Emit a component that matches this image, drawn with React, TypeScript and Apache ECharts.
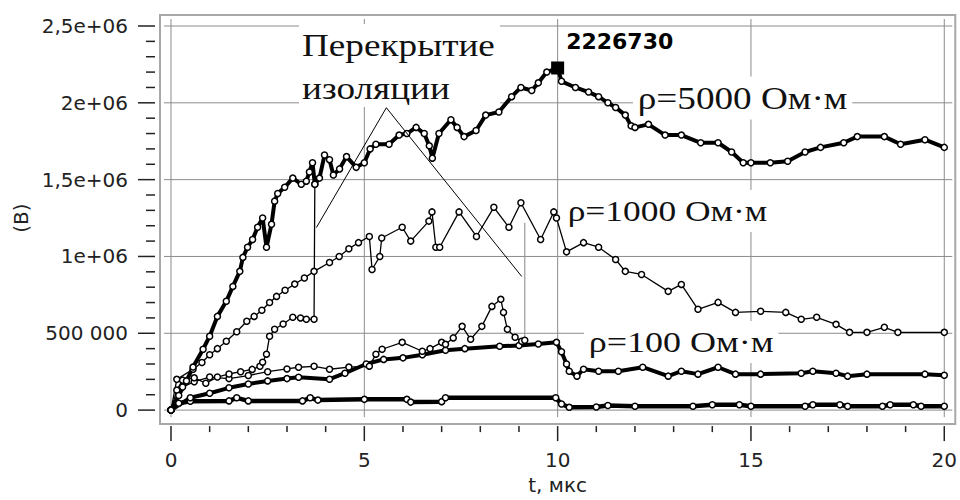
import React, { useEffect, useRef } from 'react';
import * as echarts from 'echarts';

const xTicks = [0, 5, 10, 15, 20];
const xTickLabels = ['0', '5', '10', '15', '20'];
const yTicks = [0, 500000, 1000000, 1500000, 2000000, 2500000];
const yTickLabels = ['0', '500 000', '1e+06', '1,5e+06', '2e+06', '2,5e+06'];
const minorSplit = 5;

const xName = 't, мкс';
const yName = '(В)';

// ρ = 5000 Ом·м
const rho5000: [number, number][] = [
  [0, 0], [0.2, 95000], [0.4, 190000], [0.57, 280000], [0.83, 396000], [1.0, 481000], [1.2, 610000],
  [1.43, 708000], [1.6, 805000], [1.78, 903000], [1.86, 994000], [1.98, 1060000], [2.11, 1110000],
  [2.24, 1190000], [2.37, 1250000], [2.47, 1060000], [2.6, 1210000], [2.68, 1360000], [2.76, 1410000],
  [2.94, 1450000], [3.15, 1510000], [3.37, 1470000], [3.5, 1490000], [3.58, 1550000], [3.66, 1610000],
  [3.72, 1470000], [3.84, 1510000], [3.97, 1660000], [4.1, 1630000], [4.2, 1530000], [4.36, 1570000],
  [4.54, 1650000], [4.79, 1580000], [5.0, 1610000], [5.15, 1700000], [5.3, 1730000], [5.64, 1730000],
  [5.9, 1790000], [6.1, 1800000], [6.34, 1840000], [6.55, 1800000], [6.68, 1720000], [6.76, 1640000],
  [6.93, 1800000], [7.24, 1890000], [7.4, 1840000], [7.58, 1780000], [7.89, 1820000], [8.14, 1920000],
  [8.48, 1940000], [8.81, 2040000], [9.05, 2100000], [9.33, 2080000], [9.5, 2130000], [9.72, 2200000],
  [10.0, 2226730], [10.1, 2140000], [10.46, 2100000], [10.8, 2070000], [11.06, 2040000], [11.3, 2000000],
  [11.5, 1970000], [11.75, 1920000], [11.9, 1850000], [12.0, 1840000], [12.35, 1860000], [12.78, 1790000],
  [13.2, 1790000], [13.7, 1740000], [14.15, 1740000], [14.5, 1680000], [14.8, 1610000], [15.0, 1610000],
  [15.5, 1610000], [15.95, 1620000], [16.4, 1680000], [16.8, 1710000], [17.4, 1740000], [17.75, 1780000],
  [18.45, 1780000], [18.87, 1730000], [19.5, 1760000], [20, 1710000],
];
const peakPoint: [number, number] = [10, 2226730];

// curve with flashover at ~3.7 µs
const flash1: [number, number][] = [
  [0, 0], [0.15, 130000], [0.3, 195000], [0.6, 210000], [0.9, 175000], [1.2, 215000], [1.5, 235000],
  [1.8, 250000], [2.1, 265000], [2.3, 285000], [2.37, 312000], [2.47, 364000], [2.55, 481000],
  [2.68, 526000], [2.9, 560000], [3.15, 604000], [3.35, 600000], [3.5, 591000], [3.7, 591000],
  [3.72, 1470000],
];

// ρ = 1000 Ом·м
const rho1000: [number, number][] = [
  [0, 0], [0.15, 200000], [0.57, 266000], [0.8, 310000], [1.0, 360000], [1.2, 400000], [1.43, 448000],
  [1.7, 510000], [1.96, 578000], [2.15, 610000], [2.35, 650000], [2.55, 700000], [2.73, 740000],
  [2.95, 780000], [3.2, 820000], [3.45, 860000], [3.7, 903000], [4.1, 961000], [4.35, 1000000],
  [4.6, 1050000], [4.85, 1090000], [5.13, 1130000],
  [5.2, 915000], [5.4, 1000000], [5.45, 1120000], [5.98, 1190000], [6.2, 1100000], [6.67, 1230000],
  [6.75, 1290000], [6.85, 1060000], [6.95, 1060000], [7.45, 1290000], [7.9, 1130000], [8.35, 1320000],
  [8.74, 1190000], [9.05, 1350000], [9.56, 1110000], [9.9, 1290000], [9.97, 1250000], [10.23, 1030000],
  [10.67, 1090000], [11.06, 1060000], [11.5, 980000], [11.75, 903000], [12.17, 883000], [12.86, 773000],
  [13.2, 818000], [13.63, 656000], [14.15, 701000], [14.6, 636000], [15.25, 643000], [15.9, 636000],
  [16.3, 591000], [16.7, 604000], [17.2, 558000], [17.55, 506000], [18.0, 506000], [18.45, 539000],
  [18.8, 506000], [20, 506000],
];

// curve with flashover at ~9.15 µs
const flash2: [number, number][] = [
  [0, 0], [0.3, 150000], [0.6, 185000], [1.0, 215000], [1.5, 205000], [2.0, 225000], [2.5, 250000],
  [3.0, 268000], [3.3, 279000], [3.7, 285000], [4.1, 266000], [4.6, 280000], [5.13, 286000],
  [5.3, 364000], [5.46, 396000], [5.98, 441000], [6.5, 383000], [6.7, 400000], [7.0, 441000],
  [7.1, 428000], [7.3, 470000], [7.53, 545000], [7.75, 461000], [8.04, 545000], [8.3, 675000],
  [8.53, 721000], [8.6, 636000], [8.7, 526000], [8.9, 474000], [9.07, 448000], [9.15, 455000],
];
const flash2Jump: [number, number][] = [[9.15, 455000], [9.15, 1220000]];

// ρ = 100 Ом·м
const rho100: [number, number][] = [
  [0, 0], [0.5, 80000], [1.0, 110000], [1.5, 145000], [2.0, 170000], [2.5, 190000], [3.0, 205000],
  [3.3, 214000], [4.1, 201000], [4.5, 240000], [5.05, 300000], [5.5, 330000], [6.0, 340000],
  [6.5, 360000], [7.1, 390000], [7.6, 400000], [8.5, 416000], [9.0, 420000], [9.5, 430000],
  [9.97, 441000], [10.1, 380000], [10.23, 300000], [10.3, 253000], [10.5, 221000], [10.67, 266000],
  [11.06, 253000], [11.57, 253000], [12.2, 279000], [12.86, 221000], [13.2, 253000], [13.63, 234000],
  [14.15, 279000], [14.6, 234000], [15.25, 234000], [16.3, 240000], [16.6, 253000], [17.2, 240000],
  [17.5, 221000], [18.0, 234000], [19.5, 234000], [20, 227000],
];

// lowest curve
const lowest: [number, number][] = [
  [0, 0], [0.2, 45000], [0.5, 58000], [1.5, 60000], [1.7, 80000], [2.0, 60000], [3.4, 60000],
  [3.6, 80000], [3.8, 65000], [5.0, 70000], [6.1, 70000], [6.2, 52000], [7.0, 55000], [7.1, 80000],
  [9.95, 80000], [10.1, 40000], [10.3, 18000], [11.0, 20000], [11.3, 30000], [12.0, 25000],
  [13.5, 25000], [14.0, 35000], [14.7, 35000], [15.0, 25000], [16.4, 25000], [16.6, 35000],
  [17.3, 35000], [17.5, 25000], [18.4, 25000], [18.6, 35000], [19.2, 35000], [19.4, 25000], [20, 25000],
];

// annotation pointer lines (data coords)
const annotApex: [number, number] = [5.57, 1968000];
const annotEnds: [number, number][] = [[3.76, 1188000], [9.07, 870000]];

const SANS = '"DejaVu Sans", Verdana, sans-serif';
const SERIF = '"Liberation Serif", "Times New Roman", serif';

function lineSeries(name: string, data: [number, number][], width: number, size: number, extra: any = {}) {
  return {
    type: 'line',
    name,
    data,
    symbol: 'circle',
    symbolSize: size,
    showSymbol: true,
    showAllSymbol: true,
    clip: false,
    itemStyle: { color: '#fff', borderColor: '#000', borderWidth: 1.5 },
    lineStyle: { color: '#000', width },
    emphasis: { disabled: true },
    z: 3,
    ...extra,
  };
}

export default function App() {
  const ref = useRef<HTMLDivElement>(null);
  useEffect(() => {
    if (!ref.current) return;
    const chart = echarts.init(ref.current, null, { renderer: 'svg' });
    const tickColor = '#222';
    const axisOffset = 16;
    chart.setOption({
      animation: false,
      backgroundColor: '#fff',
      grid: { left: 171, right: 13, top: 26, bottom: 89, containLabel: false },
      xAxis: {
        type: 'value',
        min: 0,
        max: 20,
        interval: 5,
        offset: axisOffset,
        name: xName,
        nameLocation: 'middle',
        nameGap: 47,
        nameTextStyle: { fontFamily: SANS, fontSize: 20, color: tickColor },
        axisLine: { show: false },
        axisTick: { show: false },
        splitLine: { show: false },
        axisLabel: {
          fontFamily: SANS,
          fontSize: 20,
          color: tickColor,
          margin: 24,
          formatter: (v: number) => {
            const i = xTicks.indexOf(v);
            return i >= 0 ? xTickLabels[i] : '';
          },
        },
      },
      yAxis: {
        type: 'value',
        min: 0,
        max: 2500000,
        interval: 500000,
        offset: axisOffset,
        name: yName,
        nameLocation: 'middle',
        nameGap: 122,
        nameTextStyle: { fontFamily: SANS, fontSize: 20, color: tickColor },
        axisLine: { show: false },
        axisTick: { show: false },
        splitLine: { show: false },
        axisLabel: {
          fontFamily: SANS,
          fontSize: 20,
          color: tickColor,
          margin: 27,
          formatter: (v: number) => {
            const i = yTicks.indexOf(v);
            return i >= 0 ? yTickLabels[i] : '';
          },
        },
      },
      series: [
        lineSeries('lowest', lowest, 4.5, 6),
        lineSeries('ρ=100', rho100, 4, 6),
        lineSeries('flash2', flash2, 1.3, 6),
        {
          type: 'line',
          name: 'flash2jump',
          data: flash2Jump,
          symbol: 'none',
          clip: false,
          lineStyle: { color: '#9a9a9a', width: 1.2 },
          z: 2,
        },
        lineSeries('ρ=1000', rho1000, 1.3, 6),
        lineSeries('flash1', flash1, 1.3, 6, {
          markLine: {
            silent: true,
            symbol: ['none', 'none'],
            label: { show: false },
            lineStyle: { color: '#000', width: 1, type: 'solid' },
            data: annotEnds.map((e) => [{ coord: annotApex }, { coord: e }]),
          },
        }),
        lineSeries('ρ=5000', rho5000, 4, 6, {
          markPoint: {
            symbol: 'rect',
            symbolSize: 13,
            itemStyle: { color: '#000' },
            data: [{ coord: peakPoint, value: peakPoint[1] }],
            label: {
              show: true,
              formatter: String(peakPoint[1]),
              position: [15, -31],
              align: 'left',
              verticalAlign: 'top',
              fontFamily: SANS,
              fontWeight: 'bold',
              fontSize: 22,
              color: '#000',
            },
          },
        }),
      ],
    });

    // extended grid lines, frame, ticks and annotation texts
    const px = (v: number) => chart.convertToPixel({ xAxisIndex: 0 }, v) as number;
    const py = (v: number) => chart.convertToPixel({ yAxisIndex: 0 }, v) as number;
    const xs = xTicks.map(px);
    const ys = yTicks.map(py);
    const gTop = ys[ys.length - 1] - 7;
    const gBottom = ys[0] + 7;
    const gLeft = xs[0] - 7;
    const gRight = xs[xs.length - 1] + 8;
    const gridColor = '#8c8c8c';
    const elements: any[] = [];
    elements.push({
      type: 'rect',
      z: 0,
      shape: { x: gLeft - 4, y: gTop - 4, width: gRight - gLeft + 7, height: gBottom - gTop + 11 },
      style: { fill: 'none', stroke: '#a8a8a8', lineWidth: 2 },
    });
    xs.forEach((x) => {
      elements.push({
        type: 'line', z: 0,
        shape: { x1: x, y1: gTop, x2: x, y2: gBottom },
        style: { stroke: gridColor, lineWidth: 1 },
      });
    });
    ys.forEach((y) => {
      elements.push({
        type: 'line', z: 0,
        shape: { x1: gLeft, y1: y, x2: gRight, y2: y },
        style: { stroke: gridColor, lineWidth: 1 },
      });
    });
    // ticks (major + minor), placed from the axis scales
    const xAxisY = ys[0] + axisOffset;
    const yAxisX = xs[0] - axisOffset;
    const tickStyle = { stroke: tickColor, lineWidth: 1.5 };
    xTicks.forEach((v, i) => {
      const x = xs[i];
      elements.push({ type: 'line', z: 5, shape: { x1: x, y1: xAxisY, x2: x, y2: xAxisY + 15 }, style: tickStyle });
      if (i < xTicks.length - 1) {
        const step = (xTicks[i + 1] - v) / minorSplit;
        for (let k = 1; k < minorSplit; k++) {
          const mx = px(v + k * step);
          elements.push({ type: 'line', z: 5, shape: { x1: mx, y1: xAxisY, x2: mx, y2: xAxisY + 6 }, style: tickStyle });
        }
      }
    });
    yTicks.forEach((v, i) => {
      const y = ys[i];
      elements.push({ type: 'line', z: 5, shape: { x1: yAxisX - 17, y1: y, x2: yAxisX, y2: y }, style: tickStyle });
      if (i < yTicks.length - 1) {
        const step = (yTicks[i + 1] - v) / minorSplit;
        for (let k = 1; k < minorSplit; k++) {
          const my = py(v + k * step);
          elements.push({ type: 'line', z: 5, shape: { x1: yAxisX - 9, y1: my, x2: yAxisX, y2: my }, style: tickStyle });
        }
      }
    });
    // white box behind the annotation heading
    elements.push({
      type: 'rect', z: 1,
      shape: { x: 299, y: 24, width: 201, height: 83 },
      style: { fill: '#fff' },
    });
    const serifText = (text: string, x: number, y: number, size: number, sx: number, pad: number[]) => ({
      type: 'text',
      z: 10,
      x,
      y,
      scaleX: sx,
      style: {
        text,
        font: `${size}px ${SERIF}`,
        fill: '#111',
        align: 'left',
        verticalAlign: 'middle',
        backgroundColor: '#fff',
        padding: pad,
      },
    });
    elements.push(serifText('Перекрытие', 302, 45, 31, 1.2, [0, 0, 0, 0]));
    elements.push(serifText('изоляции', 302, 88, 31, 1.2, [0, 0, 0, 0]));
    elements.push(serifText('ρ=5000 Ом·м', 633, 98, 31, 1.2, [6, 4, 6, 4]));
    elements.push(serifText('ρ=1000 Ом·м', 563, 211, 30, 1.18, [6, 4, 6, 4]));
    elements.push(serifText('ρ=100 Ом·м', 584, 342, 30, 1.2, [6, 4, 6, 4]));
    chart.setOption({ graphic: { elements } });

    return () => chart.dispose();
  }, []);
  return (
    <div
      ref={ref}
      style={{ position: 'fixed', left: 0, top: 0, width: 960, height: 500, background: '#fff' }}
    />
  );
}
